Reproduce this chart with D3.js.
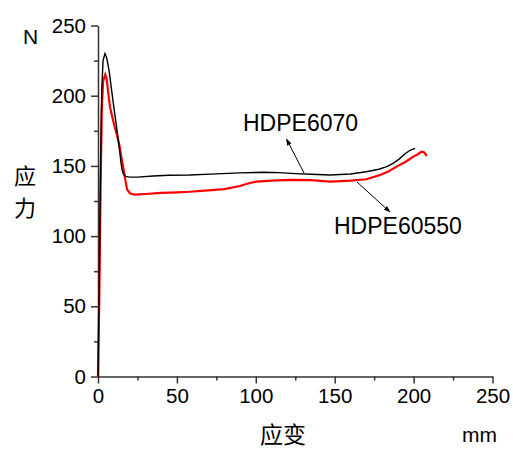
<!DOCTYPE html>
<html>
<head>
    <meta charset="utf-8">
    <title>HDPE stress-strain</title>
    <style>
        body { margin: 0; background: #fff; }
        .axis text { font-family: "Liberation Sans", Arial, sans-serif; font-size: 20.5px; fill: #000; }
        .axis path, .axis line { fill: none; stroke: #333; stroke-width: 1.5px; }
        .lbl { font-family: "Liberation Sans", Arial, sans-serif; fill: #000; }
        .cjk { font-family: "Noto Sans CJK SC", sans-serif; fill: #000; }
    </style>
    <script src="https://d3js.org/d3.v7.min.js"></script>
</head>
<body>
<script>
  // strain (mm) and stress (N)
  var strain6070 = [0, 0.8, 1.6, 2.4, 3.2, 4.4, 5.5, 7, 8.5, 10, 11.5, 12.9, 13.8, 14.6, 15.3, 16.2, 17.5, 20, 25, 35, 45, 58, 75, 90, 105, 115, 125, 135, 147, 160, 170, 178, 183, 187, 191, 195, 198, 201];
  var stress6070 = [0, 70, 150, 205, 225, 230, 227, 218, 205, 192, 180, 168, 160, 152, 147, 144, 142.5, 142, 142, 142.8, 143.3, 143.5, 144.3, 145, 145.5, 145.2, 144.5, 144, 143.5, 144.2, 145.8, 147.6, 149.5, 151.8, 155, 159, 161.3, 162.5];
  var strain60550 = [0, 0.8, 1.6, 2.4, 3.2, 4.6, 5.5, 6.5, 7.6, 9, 10.5, 12, 13.5, 15, 16, 17.3, 18.5, 20.3, 23, 30, 40, 50, 58, 70, 80, 90, 95, 100.5, 110, 121.7, 135, 147, 160, 170, 178.7, 184, 189.2, 195, 199.8, 203, 205, 206.6, 207.5, 208.3];
  var stress60550 = [0, 55, 130, 190, 210, 215, 212, 202, 192, 185, 178, 172, 165, 155, 149, 140, 133, 130.5, 129.5, 130, 130.8, 131.2, 131.6, 132.5, 133.5, 135.7, 137.5, 138.8, 139.5, 140, 139.8, 138.8, 139.5, 140.5, 143.5, 146, 149.5, 153, 156.6, 158.5, 160.1, 159.8, 158.5, 157];
  var xTicks = [0, 50, 100, 150, 200, 250];
  var yTicks = [0, 50, 100, 150, 200, 250];
  var xMinor = [25, 75, 125, 175, 225];
  var yMinor = [25, 75, 125, 175, 225];

  var W = 513, H = 450;
  var plotL = 98, plotR = 492.5, plotT = 25.5, plotB = 376.5;

  var svg = d3.select("body").append("svg")
      .attr("width", W).attr("height", H);

  var x = d3.scaleLinear().domain([0, 250]).range([plotL, plotR]);
  var y = d3.scaleLinear().domain([0, 250]).range([plotB, plotT]);

  // minor ticks
  svg.append("g").attr("class", "axis")
     .attr("transform", "translate(0," + plotB + ")")
     .call(d3.axisBottom(x).tickValues(xMinor).tickSize(4).tickSizeOuter(0).tickFormat(""))
     .select(".domain").remove();
  svg.append("g").attr("class", "axis")
     .attr("transform", "translate(" + plotL + ",0)")
     .call(d3.axisLeft(y).tickValues(yMinor).tickSize(4).tickSizeOuter(0).tickFormat(""))
     .select(".domain").remove();

  // major axes
  svg.append("g").attr("class", "axis")
     .attr("transform", "translate(0," + plotB + ")")
     .call(d3.axisBottom(x).tickValues(xTicks).tickSize(7).tickSizeOuter(0).tickPadding(5));
  svg.append("g").attr("class", "axis")
     .attr("transform", "translate(" + plotL + ",0)")
     .call(d3.axisLeft(y).tickValues(yTicks).tickSize(7).tickSizeOuter(0).tickPadding(5));

  var line = d3.line().x(function (d) { return x(d[0]); }).y(function (d) { return y(d[1]); });

  svg.append("path")
     .datum(d3.zip(strain60550, stress60550))
     .attr("d", line)
     .attr("fill", "none").attr("stroke", "#ff0000").attr("stroke-width", 2.2);
  svg.append("path")
     .datum(d3.zip(strain6070, stress6070))
     .attr("d", line)
     .attr("fill", "none").attr("stroke", "#000").attr("stroke-width", 1.4);

  // annotations
  svg.append("defs").append("marker")
     .attr("id", "arr").attr("viewBox", "0 0 10 10").attr("refX", 9).attr("refY", 5)
     .attr("markerWidth", 7).attr("markerHeight", 7).attr("orient", "auto")
     .append("path").attr("d", "M0,1.5L10,5L0,8.5z").attr("fill", "#000");

  svg.append("line")
     .attr("x1", 304).attr("y1", 173).attr("x2", 286.5).attr("y2", 139)
     .attr("stroke", "#000").attr("stroke-width", 1).attr("marker-end", "url(#arr)");
  svg.append("line")
     .attr("x1", 357).attr("y1", 182).attr("x2", 390).attr("y2", 212)
     .attr("stroke", "#000").attr("stroke-width", 1).attr("marker-end", "url(#arr)");

  svg.append("text").attr("class", "lbl").attr("x", 243).attr("y", 131)
     .style("font-size", "23px").text("HDPE6070");
  svg.append("text").attr("class", "lbl").attr("x", 334).attr("y", 234)
     .style("font-size", "23px").text("HDPE60550");

  svg.append("text").attr("class", "lbl").attr("x", 23).attr("y", 44)
     .style("font-size", "21px").text("N");
  svg.append("text").attr("class", "lbl").attr("x", 462).attr("y", 442)
     .style("font-size", "21px").text("mm");

  svg.append("text").attr("class", "cjk").attr("x", 25).attr("y", 184)
     .attr("text-anchor", "middle").style("font-size", "22px").text("应");
  svg.append("text").attr("class", "cjk").attr("x", 25).attr("y", 216)
     .attr("text-anchor", "middle").style("font-size", "22px").text("力");
  svg.append("text").attr("class", "cjk").attr("x", 260).attr("y", 443)
     .style("font-size", "23px").text("应变");
</script>
</body>
</html>
